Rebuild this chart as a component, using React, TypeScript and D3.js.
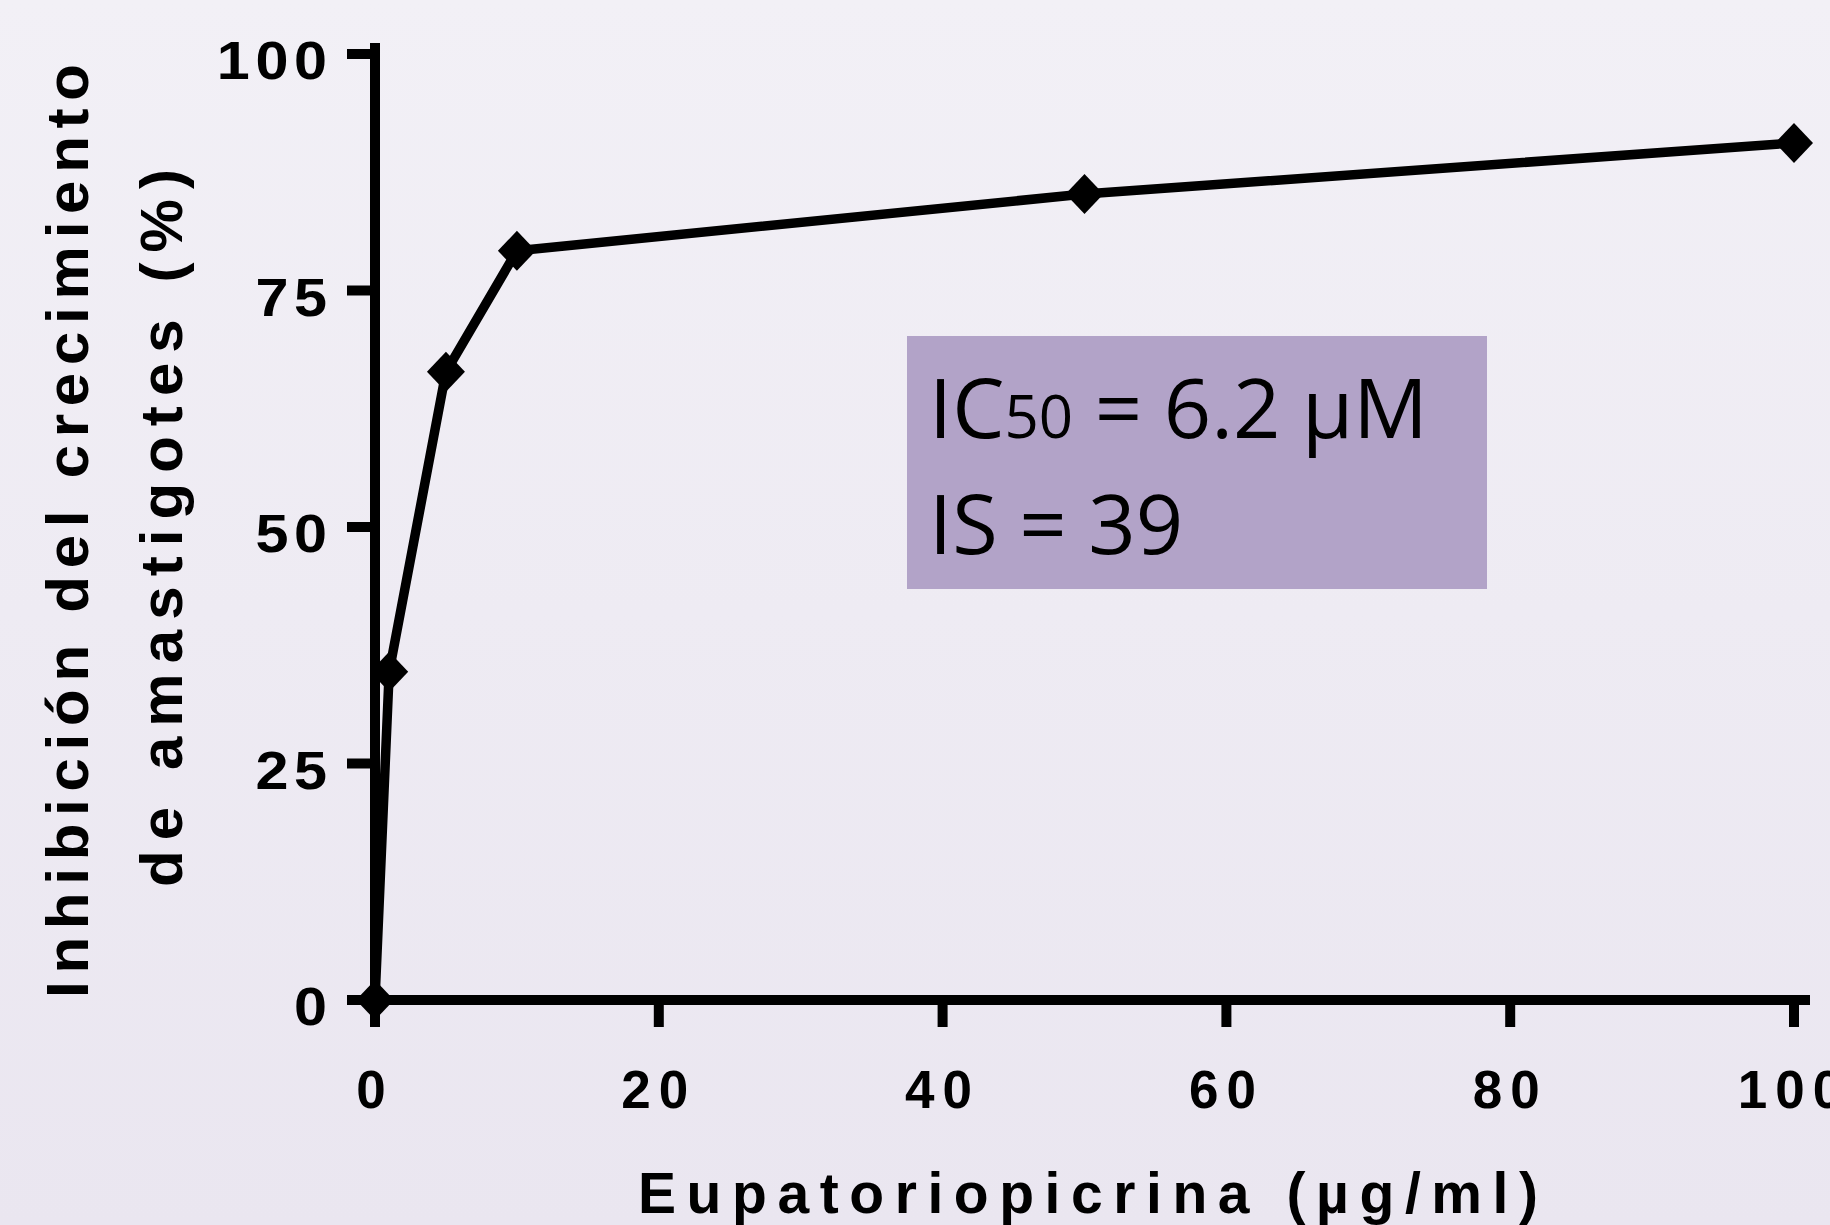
import React from "react";
import * as d3 from "d3";

const W = 1830;
const H = 1225;

// datos
const concentrations = [0, 1, 5, 10, 50, 100];
const inhibition = [0, 34.7, 66.4, 79.2, 85.2, 90.6];

const xTicks = [0, 20, 40, 60, 80, 100];
const yTicks = [0, 25, 50, 75, 100];

const xTitle = "Eupatoriopicrina (µg/ml)";
const yTitleLines = ["Inhibición del crecimiento", "de amastigotes (%)"];

const ic50Parts = ["IC", "50", " = 6.2 µM"];
const isText = "IS = 39";

const axisFont = "'Liberation Sans', Arial, sans-serif";

export default function App() {
  const x = d3.scaleLinear().domain([0, 100]).range([375, 1794]);
  const y = d3.scaleLinear().domain([0, 100]).range([1000, 54]);

  const points = concentrations.map((c, i) => ({ c, v: inhibition[i] }));

  const line = d3
    .line<{ c: number; v: number }>()
    .x((d) => x(d.c))
    .y((d) => y(d.v));

  // rombo algo más alto que ancho
  const diamond = (cx: number, cy: number) => {
    const hw = 19;
    const hh = 20;
    return `M${cx},${cy - hh}L${cx + hw},${cy}L${cx},${cy + hh}L${cx - hw},${cy}Z`;
  };

  const tick = 28;
  const axisW = 10;

  return (
    <svg
      width={W}
      height={H}
      style={{ position: "absolute", left: 0, top: 0, display: "block" }}
    >
      <defs>
        <linearGradient id="bg" x1="0" y1="0" x2="0" y2="1">
          <stop offset="0" stopColor="#f2f0f6" />
          <stop offset="1" stopColor="#eae6f0" />
        </linearGradient>
      </defs>
      <rect width={W} height={H} fill="url(#bg)" />

      {/* eje Y */}
      <line
        x1={x(0)}
        x2={x(0)}
        y1={y(0)}
        y2={y(100) - 6}
        stroke="#000"
        strokeWidth={axisW}
        strokeLinecap="square"
      />
      {yTicks.map((t) => (
        <g key={"yt" + t}>
          <line
            x1={x(0) - tick}
            x2={x(0)}
            y1={y(t)}
            y2={y(t)}
            stroke="#000"
            strokeWidth={axisW}
          />
          <text
            transform={`translate(${x(0) - 48},${y(t) + 25}) scale(1.12,1)`}
            x={5}
            textAnchor="end"
            fontFamily={axisFont}
            fontWeight={700}
            fontSize={53}
            letterSpacing={5}
            fill="#000"
          >
            {t}
          </text>
        </g>
      ))}

      {/* eje X */}
      <line
        x1={x(0)}
        x2={x(100) + 11}
        y1={y(0)}
        y2={y(0)}
        stroke="#000"
        strokeWidth={axisW}
        strokeLinecap="square"
      />
      {xTicks.map((t) => (
        <g key={"xt" + t}>
          <line
            x1={x(t)}
            x2={x(t)}
            y1={y(0)}
            y2={y(0) + tick - 1}
            stroke="#000"
            strokeWidth={axisW}
          />
          <text
            x={x(t)}
            y={1108}
            textAnchor="middle"
            fontFamily={axisFont}
            fontWeight={700}
            fontSize={53}
            letterSpacing={8}
            fill="#000"
          >
            {t}
          </text>
        </g>
      ))}

      {/* títulos */}
      <text
        x={1088}
        y={1213}
        textAnchor="middle"
        fontFamily={axisFont}
        fontWeight={700}
        fontSize={57}
        textLength={900}
        lengthAdjust="spacing"
        fill="#000"
      >
        {xTitle}
      </text>
      {yTitleLines.map((s, i) => (
        <text
          key={s}
          transform={`translate(${i === 0 ? 88 : 182},${i === 0 ? 531 : 528}) rotate(-90)`}
          textAnchor="middle"
          fontFamily={axisFont}
          fontWeight={700}
          fontSize={60}
          textLength={i === 0 ? 934 : 718}
          lengthAdjust="spacing"
          fill="#000"
        >
          {s}
        </text>
      ))}

      {/* curva */}
      <path
        d={line(points) || ""}
        fill="none"
        stroke="#000"
        strokeWidth={9.5}
        strokeLinejoin="miter"
      />
      {points.map((d) => (
        <path key={"p" + d.c} d={diamond(x(d.c), y(d.v))} fill="#000" />
      ))}

      {/* recuadro IC50 */}
      <rect x={907} y={336} width={580} height={253} fill="#b2a3c8" />
      <text
        x={929}
        y={438}
        fontFamily="'Open Sans', 'Noto Sans', sans-serif"
        fontSize={83}
        fill="#000"
      >
        <tspan>{ic50Parts[0]}</tspan>
        <tspan fontSize={60}>{ic50Parts[1]}</tspan>
        <tspan>{ic50Parts[2]}</tspan>
      </text>
      <text
        x={929}
        y={554}
        fontFamily="'Open Sans', 'Noto Sans', sans-serif"
        fontSize={83}
        fill="#000"
      >
        {isText}
      </text>
    </svg>
  );
}
